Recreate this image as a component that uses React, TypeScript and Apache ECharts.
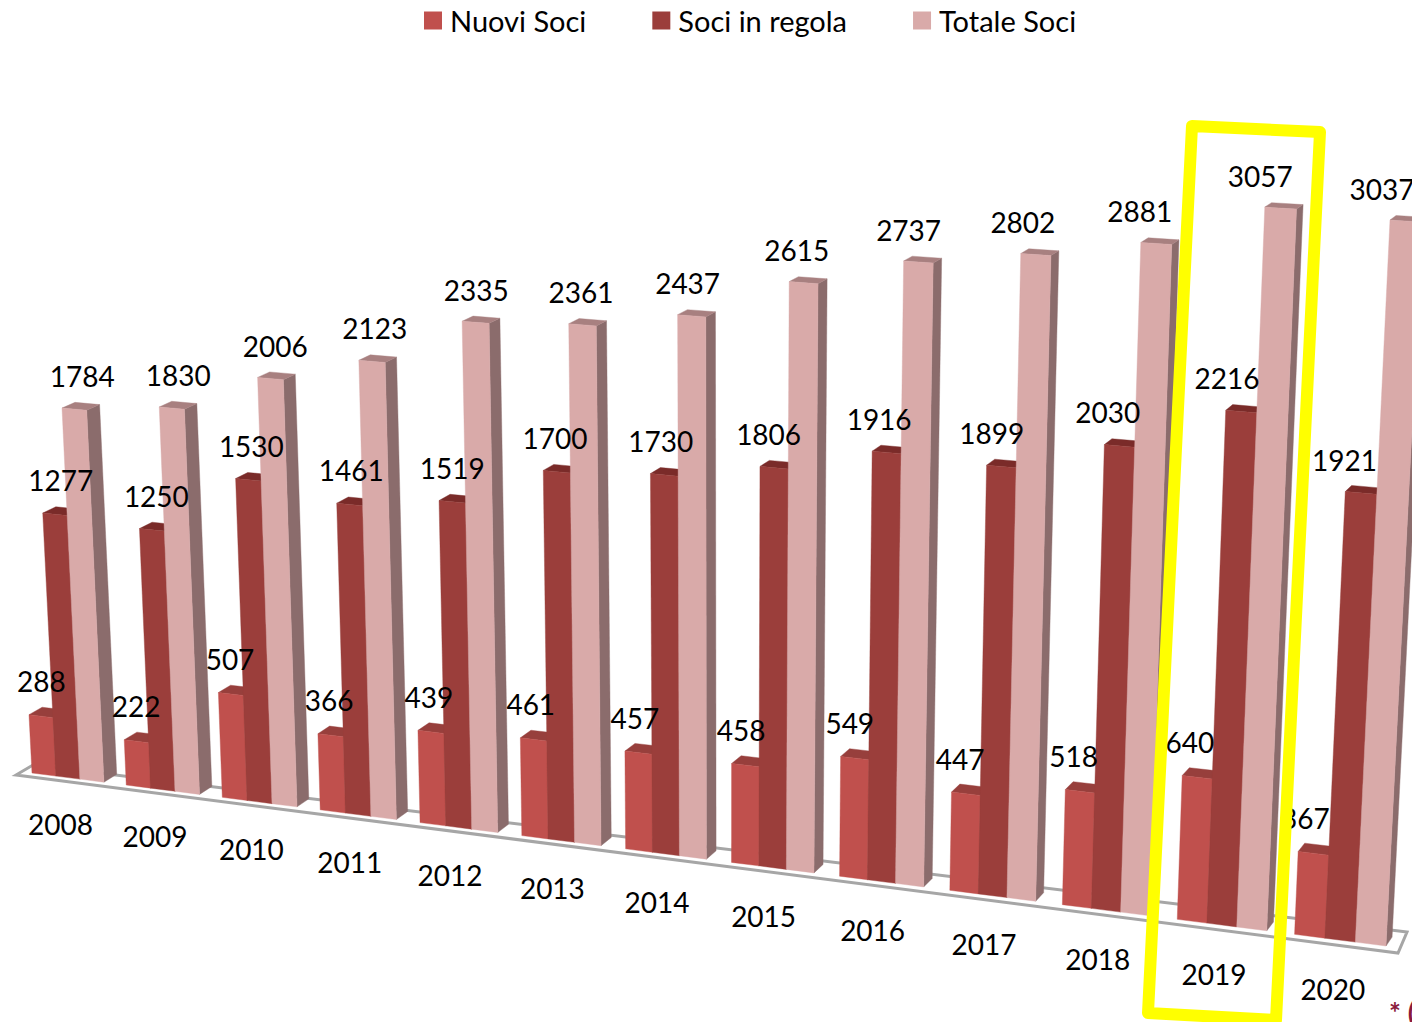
import React, { useEffect, useRef } from "react";
import * as echarts from "echarts";

const years = ["2008","2009","2010","2011","2012","2013","2014","2015","2016","2017","2018","2019","2020"];
const nuoviSoci = [288,222,507,366,439,461,457,458,549,447,518,640,367];
const sociInRegola = [1277,1250,1530,1461,1519,1700,1730,1806,1916,1899,2030,2216,1921];
const totaleSoci = [1784,1830,2006,2123,2335,2361,2437,2615,2737,2802,2881,3057,3037];

const FONT = "Lato, sans-serif";
const LABEL_SIZE = 28;
const BAR_W = 0.255;

// Perspective calibration: plane (u = category position, v = value) -> screen.
const ANCHORS = [
  { u: 0, v: 0, x: 32, y: 773 },
  { u: 12 + 3 * BAR_W, v: 0, x: 1386, y: 946 },
  { u: 2 * BAR_W, v: 1784, x: 62, y: 408 },
  { u: 12 + 2 * BAR_W, v: 3037, x: 1390, y: 220 },
];

function solve(A: number[][], b: number[]) {
  const n = b.length;
  const M = A.map((r, i) => [...r, b[i]]);
  for (let c = 0; c < n; c++) {
    let p = c;
    for (let r = c + 1; r < n; r++) if (Math.abs(M[r][c]) > Math.abs(M[p][c])) p = r;
    [M[c], M[p]] = [M[p], M[c]];
    for (let r = 0; r < n; r++) {
      if (r === c) continue;
      const f = M[r][c] / M[c][c];
      for (let k = c; k <= n; k++) M[r][k] -= f * M[c][k];
    }
  }
  return M.map((r, i) => r[n] / r[i]);
}

function projector(api: any) {
  const A: number[][] = [];
  const b: number[] = [];
  for (const a of ANCHORS) {
    const [sx, sy] = api.coord([a.u, a.v]);
    A.push([sx, sy, 1, 0, 0, 0, -sx * a.x, -sy * a.x]);
    b.push(a.x);
    A.push([0, 0, 0, sx, sy, 1, -sx * a.y, -sy * a.y]);
    b.push(a.y);
  }
  const h = solve(A, b);
  return (u: number, v: number) => {
    const [sx, sy] = api.coord([u, v]);
    const d = h[6] * sx + h[7] * sy + 1;
    return [(h[0] * sx + h[1] * sy + h[2]) / d, (h[3] * sx + h[4] * sy + h[5]) / d];
  };
}

const back = (p: number[]) => [
  p[0] + (13 - 0.0052 * (p[0] - 60)),
  p[1] + (-5 - 0.006 * (p[1] - 300)),
];

const bump = (x: number, amount: number) => amount * Math.max(0, 1 - ((x - 700) / 680) ** 2);

function poly(points: number[][], fill: string) {
  return { type: "polygon", shape: { points }, style: { fill, stroke: fill, lineWidth: 0.4 }, silent: true };
}

function barRender(slot: number, front: string, side: string, top: string) {
  return (_: any, api: any) => {
    const P = projector(api);
    const i = api.value(0);
    const val = api.value(1);
    const u0 = i + slot * BAR_W;
    const u1 = u0 + BAR_W;
    const bl = P(u0, 0), br = P(u1, 0), tr = P(u1, val), tl = P(u0, val);
    return {
      type: "group",
      children: [
        poly([br, tr, back(tr), back(br)], side),
        poly([tl, tr, back(tr), back(tl)], top),
        poly([bl, br, tr, tl], front),
      ],
    };
  };
}

function text(x: number, y: number, s: string) {
  return {
    type: "text",
    silent: true,
    style: { x, y, text: s, fill: "#000", font: `${LABEL_SIZE}px ${FONT}`, textAlign: "center", textVerticalAlign: "middle" },
  };
}

function labelRender(slot: number, a: number, b: number, bulge: number, lift: number) {
  return (_: any, api: any) => {
    const P = projector(api);
    const i = api.value(0);
    const val = api.value(1);
    const tl = P(i + slot * BAR_W, val);
    return text(tl[0] + a - b * tl[0] + bump(tl[0], bulge), tl[1] - lift + tl[0] / 1400, String(val));
  };
}

function yearRender(_: any, api: any) {
  const P = projector(api);
  const i = api.value(0);
  const c = P(i + 1.5 * BAR_W, 0);
  return text(c[0] - 7 - bump(c[0], 2), c[1] + 46 + (c[0] / 1400) * 3.5, years[i]);
}

const toData = (arr: number[]) => arr.map((v, i) => [i, v]);

function customSeries(name: string, data: any, renderItem: any, z: number, color?: string) {
  return {
    type: "custom", name, data, renderItem, z, silent: true, clip: false,
    encode: { x: 0, y: 1 },
    ...(color ? { itemStyle: { color } } : {}),
  };
}

export default function App() {
  const ref = useRef<HTMLDivElement>(null);
  useEffect(() => {
    document.body.style.margin = "0";
    const chart = echarts.init(ref.current!, undefined, { renderer: "svg" });
    chart.setOption({
      animation: false,
      backgroundColor: "#fff",
      grid: { left: 0, right: 0, top: 0, bottom: 0 },
      xAxis: { type: "value", min: -1, max: 14, show: false },
      yAxis: { type: "value", min: 0, max: 3500, show: false },
      legend: {
        data: ["Nuovi Soci", "Soci in regola", "Totale Soci"],
        left: 424, top: 6, padding: 0, itemWidth: 18, itemHeight: 18, itemGap: 66,
        icon: "rect", selectedMode: false,
        textStyle: { fontFamily: FONT, fontSize: 29, color: "#000", padding: [0, 0, 3, 3] },
      },
      graphic: {
        elements: [
          { type: "polygon", z: -1, silent: true,
            shape: { points: [[16, 775], [1398, 953], [1407, 932], [33, 765]] },
            style: { fill: "#fff", stroke: "#a6a6a6", lineWidth: 3 } },
          { type: "polygon", z: 100, silent: true,
            shape: { points: [[1192, 126], [1320, 132], [1276, 1020], [1148, 1013]] },
            style: { fill: "none", stroke: "#ffff00", lineWidth: 12, lineJoin: "round" } },
          { type: "text", z: 100, silent: true,
            style: { x: 1389, y: 998, text: "* (", fill: "#8b1a3c", font: `bold 28px ${FONT}` } },
        ],
      },
      series: [
        customSeries("Nuovi Soci", toData(nuoviSoci), barRender(0, "#c0504d", "#8f3c3a", "#973f3c"), 2, "#c0504d"),
        customSeries("Soci in regola", toData(sociInRegola), barRender(1, "#9b3e3b", "#7a2f2d", "#7a2b29"), 3, "#9b3e3b"),
        customSeries("Totale Soci", toData(totaleSoci), barRender(2, "#d9aaa9", "#8b6c6c", "#a88080"), 4, "#d9aaa9"),
        customSeries("l1", toData(nuoviSoci), labelRender(0, 12.5, 0.004, 0, 34), 10),
        customSeries("l2", toData(sociInRegola), labelRender(1, 18.6, 0.0144, 1, 33), 10),
        customSeries("l3", toData(totaleSoci), labelRender(2, 21.3, 0.0211, 3, 32), 10),
        customSeries("years", years.map((_, i) => [i, 0]), yearRender, 10),
      ],
    });
    return () => chart.dispose();
  }, []);
  return <div ref={ref} style={{ position: "fixed", left: 0, top: 0, width: 1412, height: 1022 }} />;
}
